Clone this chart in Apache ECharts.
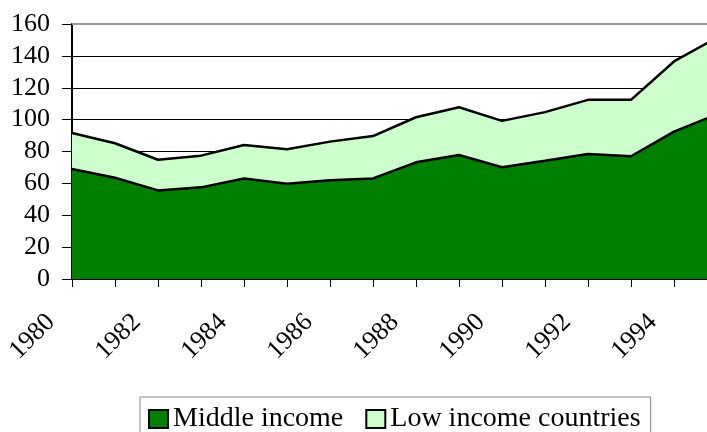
<!DOCTYPE html>
<html>
<head>
<meta charset="utf-8">
<script src="https://cdn.jsdelivr.net/npm/echarts@6/dist/echarts.min.js"></script>
<style>
  html, body { margin: 0; padding: 0; background: #fff; }
  #chart { width: 707px; height: 432px; }
</style>
</head>
<body>
<div id="chart"></div>
<script>
// data
var years = ['1980', '1981', '1982', '1983', '1984', '1985', '1986', '1987',
             '1988', '1989', '1990', '1991', '1992', '1993', '1994', '1995'];
var middleIncome = [69, 63.5, 55.6, 57.5, 63.1, 59.7, 61.9, 63.1,
                    73.2, 77.8, 70.1, 74.2, 78.4, 77.0, 92.5, 103.4];
var lowIncome = [22.6, 21.7, 19.2, 19.9, 21.0, 21.7, 24.3, 26.6,
                 28.3, 30.0, 29.1, 30.5, 34.0, 35.4, 44.0, 48.1];
var seriesNames = ['Middle income', 'Low income countries'];

var font = "'Liberation Serif', 'Times New Roman', serif";

var myChart = echarts.init(document.getElementById('chart'));

// plot runs past the right edge: 1995 sits just outside the picture
myChart.setOption({
  animation: false,
  backgroundColor: '#fff',
  grid: { left: 72, width: 645, top: 24, bottom: 153, outerBoundsMode: 'none' },
  legend: {
    data: seriesNames,
    left: 140,
    top: 397,
    padding: [8, 10, 10, 8],
    borderColor: '#888',
    borderWidth: 1,
    itemGap: 22,
    itemWidth: 19,
    itemHeight: 18,
    icon: 'rect',
    itemStyle: { borderColor: '#000', borderWidth: 2 },
    textStyle: { fontFamily: font, fontSize: 28, color: '#000' }
  },
  xAxis: {
    type: 'category',
    data: years,
    boundaryGap: false,
    axisLine: { lineStyle: { color: '#000', width: 2 } },
    axisTick: { interval: 0, length: 8, lineStyle: { color: '#000' } },
    axisLabel: {
      interval: 1,
      rotate: 45,
      margin: 18,
      padding: [0, 30, 0, 0],
      fontFamily: font,
      fontSize: 26,
      color: '#000'
    },
    splitLine: { show: false }
  },
  yAxis: {
    type: 'value',
    min: 0,
    max: 160,
    interval: 20,
    axisLine: { show: true, lineStyle: { color: '#000', width: 2 } },
    axisTick: { show: true, length: 10, lineStyle: { color: '#000' } },
    axisLabel: { margin: 22, fontFamily: font, fontSize: 26, color: '#000' },
    splitLine: { lineStyle: { color: '#000', width: 1 } }
  },
  series: [
    {
      name: seriesNames[0],
      type: 'line',
      stack: 'total',
      data: middleIncome,
      symbol: 'none',
      lineStyle: { color: '#000', width: 2.5 },
      itemStyle: { color: '#008000' },
      areaStyle: { color: '#008000', opacity: 1 },
      markLine: {
        silent: true,
        symbol: 'none',
        label: { show: false },
        lineStyle: { color: '#999', width: 2, type: 'solid' },
        data: [{ yAxis: 160 }]
      }
    },
    {
      name: seriesNames[1],
      type: 'line',
      stack: 'total',
      data: lowIncome,
      symbol: 'none',
      lineStyle: { color: '#000', width: 2.5 },
      itemStyle: { color: '#ccffcc' },
      areaStyle: { color: '#ccffcc', opacity: 1 }
    }
  ]
});
</script>
</body>
</html>
